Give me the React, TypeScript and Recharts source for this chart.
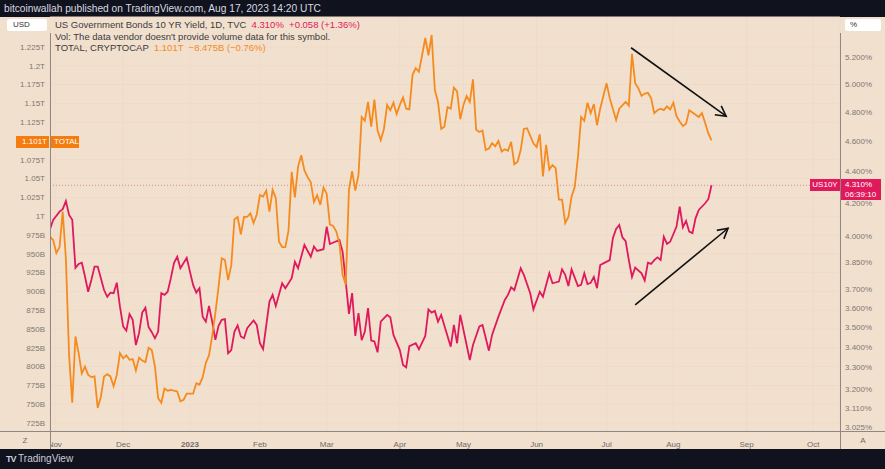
import React from "react";
import { LineChart, Line, XAxis, YAxis, CartesianGrid, ReferenceLine } from "recharts";

// bar index = weekday count from Oct 31 2022
const monthBars = [1.5, 23, 44, 66, 87, 110, 130, 153, 175, 196, 219, 240];
const monthLabels = ["Nov", "Dec", "2023", "Feb", "Mar", "Apr", "May", "Jun", "Jul", "Aug", "Sep", "Oct"];

const leftTicks = [725, 750, 775, 800, 825, 850, 875, 900, 925, 950, 975, 1000, 1025, 1050, 1075, 1125, 1150, 1175, 1200, 1225];
const rightTicks = [3.025, 3.11, 3.2, 3.3, 3.4, 3.5, 3.6, 3.7, 3.85, 4.0, 4.2, 4.4, 4.6, 4.8, 5.0, 5.2];

// US10Y yield, %
const us10yBar = [
  0, 1, 3, 4, 5, 6, 7, 8, 9, 10,
  11, 12, 13, 14, 15, 16, 17, 18, 19, 20,
  21, 22, 23, 24, 25, 26, 27, 28, 29, 30,
  31, 32, 33, 34, 35, 36, 37, 38, 39, 40,
  41, 43, 44, 45, 46, 47, 48, 49, 50, 51,
  52, 53, 54, 55, 56, 57, 58, 59, 60, 61,
  62, 64, 65, 66, 67, 69, 70, 71, 73, 74,
  76, 77, 78, 80, 82, 83, 84, 86, 87, 88,
  91, 92, 93, 94, 95, 96, 97, 98, 99, 100,
  101, 102, 103, 104, 106, 107, 108, 110, 111, 112,
  113, 115, 116, 118, 119, 120, 121, 122, 123, 126,
  127, 128, 129, 131, 132, 133, 135, 136, 138, 139,
  141, 143, 144, 145, 146, 148, 149, 151, 152, 154,
  155, 157, 158, 160, 161, 162, 163, 164, 166, 167,
  168, 169, 170, 171, 172, 173, 174, 176, 177, 178,
  179, 180, 181, 182, 183, 184, 186, 187, 188, 189,
  190, 191, 192, 193, 194, 195, 197, 198, 199, 200,
  201, 202, 203, 204, 206, 207, 208,
];
const us10yPct = [
  4.041, 4.097, 4.147, 4.162, 4.212, 4.127, 4.097, 3.819, 3.841, 3.848,
  3.771, 3.688, 3.752, 3.826, 3.826, 3.762, 3.697, 3.661, 3.683, 3.68,
  3.737, 3.608, 3.505, 3.484, 3.569, 3.539, 3.411, 3.471, 3.577, 3.603,
  3.502, 3.476, 3.445, 3.479, 3.68, 3.671, 3.688, 3.762, 3.848, 3.882,
  3.817, 3.876, 3.798, 3.725, 3.683, 3.707, 3.556, 3.53, 3.612, 3.53,
  3.437, 3.508, 3.539, 3.543, 3.37, 3.386, 3.479, 3.51, 3.454, 3.445,
  3.496, 3.536, 3.513, 3.42, 3.391, 3.635, 3.671, 3.612, 3.734, 3.707,
  3.762, 3.853, 3.817, 3.949, 3.882, 3.94, 3.915, 3.925, 4.057, 3.955,
  3.978, 3.911, 3.743, 3.57, 3.681, 3.457, 3.574, 3.435, 3.479, 3.601,
  3.434, 3.429, 3.375, 3.53, 3.565, 3.553, 3.462, 3.386, 3.313, 3.301,
  3.406, 3.42, 3.39, 3.457, 3.594, 3.577, 3.586, 3.53, 3.565, 3.403,
  3.513, 3.42, 3.565, 3.411, 3.337, 3.411, 3.505, 3.513, 3.383, 3.462,
  3.556, 3.644, 3.671, 3.712, 3.697, 3.817, 3.78, 3.68, 3.594, 3.688,
  3.661, 3.789, 3.734, 3.743, 3.811, 3.78, 3.719, 3.811, 3.719, 3.725,
  3.789, 3.73, 3.736, 3.769, 3.707, 3.835, 3.844, 3.863, 3.99, 4.043,
  4.067, 3.993, 3.972, 3.863, 3.769, 3.821, 3.789, 3.749, 3.848, 3.841,
  3.863, 3.878, 3.863, 3.997, 3.955, 3.968, 4.057, 4.177, 4.053, 4.091,
  4.027, 4.018, 4.108, 4.157, 4.198, 4.223, 4.31,
];

// TOTAL crypto market cap, billions
const totalBar = [
  0, 1, 2, 3, 4, 5, 6, 7, 8, 9,
  10, 11, 12, 13, 14, 15, 16, 17, 18, 19,
  20, 21, 22, 23, 24, 25, 26, 27, 28, 29,
  30, 31, 32, 33, 34, 35, 36, 37, 38, 40,
  41, 42, 43, 45, 46, 47, 48, 49, 50, 51,
  52, 53, 54, 55, 56, 57, 58, 59, 60, 61,
  62, 63, 64, 65, 66, 67, 68, 69, 70, 71,
  72, 73, 74, 75, 76, 77, 78, 79, 80, 81,
  82, 83, 84, 85, 86, 87, 88, 89, 90, 91,
  92, 93, 94, 95, 96, 97, 98, 99, 100, 101,
  102, 103, 104, 105, 106, 107, 108, 109, 110, 111,
  112, 113, 114, 115, 116, 117, 118, 119, 120, 121,
  122, 123, 124, 125, 126, 127, 128, 129, 130, 131,
  132, 133, 134, 135, 136, 137, 138, 139, 140, 141,
  142, 143, 144, 145, 146, 147, 148, 149, 150, 152,
  153, 154, 155, 156, 157, 158, 159, 160, 161, 162,
  163, 164, 165, 166, 167, 168, 169, 170, 171, 172,
  173, 175, 176, 178, 179, 181, 182, 183, 184, 185,
  186, 187, 188, 189, 190, 191, 192, 193, 194, 195,
  196, 197, 198, 199, 200, 201, 202, 204, 205, 206,
  207, 208,
];
const totalCap = [
  973, 968, 951, 959, 1006, 943, 815, 752, 840, 818,
  791, 800, 789, 786, 787, 745, 760, 787, 790, 787,
  774, 789, 818, 811, 815, 809, 810, 795, 812, 808,
  806, 825, 822, 800, 758, 752, 771, 768, 769, 767,
  754, 756, 764, 764, 778, 776, 786, 805, 815, 841,
  871, 906, 944, 942, 915, 935, 996, 999, 976, 999,
  999, 1004, 991, 1002, 1028, 1026, 1034, 1006, 1035, 1024,
  966, 959, 959, 981, 1059, 1025, 1066, 1081, 1061, 1052,
  1045, 1019, 1028, 1015, 1038, 1030, 989, 987, 980, 964,
  922, 909, 1035, 1060, 1034, 1055, 1132, 1127, 1152, 1119,
  1155, 1114, 1101, 1116, 1148, 1141, 1151, 1136, 1148, 1158,
  1143, 1142, 1188, 1197, 1192, 1214, 1237, 1214, 1241, 1168,
  1152, 1116, 1119, 1145, 1143, 1171, 1166, 1129, 1148, 1160,
  1152, 1182, 1115, 1112, 1114, 1088, 1090, 1097, 1093, 1100,
  1086, 1089, 1087, 1099, 1069, 1072, 1088, 1116, 1117, 1097,
  1092, 1109, 1053, 1095, 1062, 1068, 1064, 1022, 1022, 991,
  999, 1026, 1039, 1079, 1132, 1127, 1151, 1137, 1149, 1121,
  1143, 1177, 1157, 1128, 1143, 1152, 1147, 1216, 1177, 1170,
  1160, 1163, 1164, 1157, 1137, 1141, 1143, 1141, 1146, 1142,
  1151, 1133, 1126, 1120, 1123, 1141, 1138, 1132, 1137, 1124,
  1110, 1101,
];

// drawn arrows, in (bar, TOTAL) units
const arrowFromBar = [182.7, 184];
const arrowFromCap = [1224, 882];
const arrowToBar = [212.6, 213.2];
const arrowToCap = [1133, 984];

const us10yData = us10yBar.map((bar, i) => ({ bar, us10y: us10yPct[i] }));
const totalData = totalBar.map((bar, i) => ({ bar, total: totalCap[i] }));

const BG = "#f2e0ce";
const DARK = "#10121e";
const ORANGE = "#f58b1f";
const PINK = "#e0195c";
const AXIS = "#7d7873";
const FONT = "'Liberation Sans', Arial, sans-serif";

const fmtCap = (v: number) => (v >= 1000 ? `${+(v / 1000).toFixed(3)}T` : `${v}B`);

const MonthTick = (props: any) => {
  const { x, y, payload } = props;
  const label = monthLabels[monthBars.indexOf(payload.value)] ?? "";
  return (
    <text x={x} y={y + 8} textAnchor="middle" fontSize={8} fill="#6e6a66" fontFamily={FONT} fontWeight={label === "2023" ? 700 : 400}>
      {label}
    </text>
  );
};

const box = (s: React.CSSProperties): React.CSSProperties => ({ position: "absolute", ...s });

export default function App() {
  return (
    <div style={{ position: "fixed", left: 0, top: 0, width: 885, height: 469, background: DARK, fontFamily: FONT, overflow: "hidden" }}>
      <div style={box({ left: 4, top: 3, fontSize: 10.2, color: "#d7d9e0", whiteSpace: "nowrap" })}>
        bitcoinwallah published on TradingView.com, Aug 17, 2023 14:20 UTC
      </div>
      <div style={box({ left: 0, top: 17, width: 885, height: 432, background: BG })} />

      <div style={box({ left: 0, top: 0 })}>
        <LineChart width={885} height={449} margin={{ top: 17, right: 0, bottom: 0, left: 0 }}>
          <defs>
            <marker id="head" markerUnits="userSpaceOnUse" markerWidth={14} markerHeight={14} refX={12} refY={7} orient="auto">
              <path d="M2,1.5 L12,7 L2,12.5" fill="none" stroke="#111" strokeWidth={1.6} />
            </marker>
          </defs>
          <CartesianGrid yAxisId="left" stroke="#efdac8" strokeWidth={1} />
          <XAxis
            type="number"
            dataKey="bar"
            domain={[0, 248.4]}
            allowDataOverflow
            ticks={monthBars}
            interval={0}
            height={18}
            axisLine={false}
            tickLine={false}
            tick={<MonthTick />}
          />
          <YAxis
            yAxisId="left"
            orientation="left"
            width={50}
            domain={[714.4, 1264.9]}
            allowDataOverflow
            ticks={leftTicks}
            interval={0}
            tickFormatter={fmtCap}
            axisLine={false}
            tickLine={false}
            tickSize={0}
            tickMargin={5}
            tick={{ fontSize: 8, fill: AXIS, fontFamily: FONT }}
          />
          <YAxis
            yAxisId="right"
            orientation="right"
            width={45}
            scale="log"
            domain={[3.0077, 5.514]}
            allowDataOverflow
            ticks={rightTicks}
            interval={0}
            tickFormatter={(v: number) => `${v.toFixed(3)}%`}
            axisLine={false}
            tickLine={false}
            tickSize={0}
            tickMargin={5}
            tick={{ fontSize: 8, fill: AXIS, fontFamily: FONT }}
          />
          <ReferenceLine yAxisId="right" y={4.31} stroke="#d98b8b" strokeDasharray="1 2" strokeWidth={1} />
          <Line data={us10yData} dataKey="us10y" yAxisId="right" type="linear" stroke={PINK} strokeWidth={1.8} dot={false} isAnimationActive={false} />
          <Line data={totalData} dataKey="total" yAxisId="left" type="linear" stroke={ORANGE} strokeWidth={1.8} dot={false} isAnimationActive={false} />
          {arrowFromBar.map((b, i) => (
            <ReferenceLine
              key={i}
              yAxisId="left"
              segment={[
                { x: b, y: arrowFromCap[i] },
                { x: arrowToBar[i], y: arrowToCap[i] },
              ]}
              stroke="#111"
              strokeWidth={1.6}
              markerEnd="url(#head)"
            />
          ))}
        </LineChart>
      </div>

      {/* panel separators */}
      <div style={box({ left: 50, top: 33, width: 1, height: 416, background: "#8d8884" })} />
      <div style={box({ left: 840, top: 33, width: 1, height: 416, background: "#8d8884" })} />
      <div style={box({ left: 0, top: 431, width: 885, height: 1, background: "#8d8884" })} />
      <div style={box({ left: 0, top: 432, width: 50, height: 17, background: BG, fontSize: 8, color: "#6e6a66", textAlign: "center", lineHeight: "17px" })}>Z</div>
      <div style={box({ left: 841, top: 432, width: 44, height: 17, fontSize: 8, color: "#6e6a66", textAlign: "center", lineHeight: "17px" })}>A</div>

      {/* legend */}
      <div style={box({ left: 7, top: 19, width: 40, height: 12, background: "#fff", borderRadius: 2, fontSize: 8, color: "#333", lineHeight: "12px", paddingLeft: 6, boxSizing: "border-box" })}>USD</div>
      <div style={box({ left: 845, top: 19, width: 36, height: 12, background: "#fff", borderRadius: 2, fontSize: 8, color: "#333", lineHeight: "12px", paddingLeft: 5, boxSizing: "border-box" })}>%</div>
      <div style={box({ left: 55, top: 19, fontSize: 9.5, color: "#3b3b3b", whiteSpace: "nowrap", lineHeight: "11.5px" })}>
        US Government Bonds 10 YR Yield, 1D, TVC <span style={{ color: PINK }}>&nbsp;4.310% &nbsp;+0.058 (+1.36%)</span>
        <br />
        Vol: The data vendor doesn't provide volume data for this symbol.
        <br />
        TOTAL, CRYPTOCAP <span style={{ color: ORANGE }}>&nbsp;1.101T &nbsp;−8.475B (−0.76%)</span>
      </div>

      {/* price labels */}
      <div style={box({ left: 16, top: 136, width: 33, height: 12, background: "#f57c0f", color: "#fff", fontSize: 8, lineHeight: "12px", textAlign: "right", paddingRight: 2, boxSizing: "border-box" })}>1.101T</div>
      <div style={box({ left: 51, top: 136, width: 28, height: 12, background: "#f57c0f", color: "#fff", fontSize: 8, lineHeight: "12px", paddingLeft: 3, boxSizing: "border-box" })}>TOTAL</div>
      <div style={box({ left: 810, top: 179, width: 30, height: 12, background: PINK, color: "#fff", fontSize: 8, lineHeight: "12px", textAlign: "center" })}>US10Y</div>
      <div style={box({ left: 841, top: 179, width: 40, height: 21, background: PINK, color: "#fff", fontSize: 8, lineHeight: "10px", paddingLeft: 4, paddingTop: 1, boxSizing: "border-box" })}>
        4.310%
        <br />
        06:39:10
      </div>

      <div style={box({ left: 6, top: 453, fontSize: 10, color: "#c9ccd6", whiteSpace: "nowrap" })}>
        <b style={{ fontSize: 9, letterSpacing: -1 }}>TV</b> TradingView
      </div>
    </div>
  );
}
